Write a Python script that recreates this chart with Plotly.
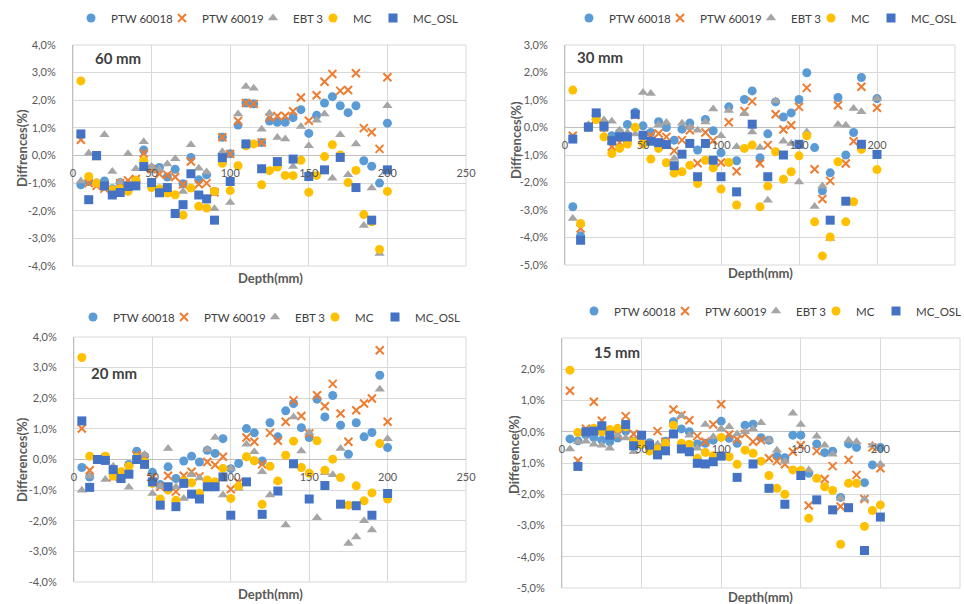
import plotly.graph_objects as go

# ---------------- data ----------------
depth = [5, 10, 15, 20, 25, 30, 35, 40, 45, 50, 55, 60, 65, 70, 75, 80, 85, 90, 95, 100,
         105, 110, 115, 120, 125, 130, 135, 140, 145, 150, 155, 160, 165, 170, 175, 180, 185, 190, 195, 200]

series_names = ["PTW 60018", "PTW 60019", "EBT 3", "MC", "MC_OSL"]

# Panel 1 : 60 mm
p1_ptw60018 = [-1.06, -0.94, -1.0, -0.92, -1.2, -0.98, -1.05, -0.9, 0.2, -0.46, -0.43, -0.78, -0.5, -1.02, -0.07, -0.88, -0.7, -1.3, 0.66, 0.06,
               1.1, 1.9, 1.87, 0.47, 1.25, 1.2, 1.2, 1.37, 1.66, 0.8, 1.46, 1.9, 2.13, 1.8, 1.55, 1.8, -0.19, -0.39, -1.0, 1.17]
p1_ptw60019 = [0.57, -1.0, -1.1, -1.2, -1.3, -1.0, -0.9, -0.85, 0.08, -0.5, -0.67, -0.7, -0.78, -1.05, -0.22, -1.04, -1.0, -1.33, 0.66, 0.06,
               1.25, 1.9, 1.87, 0.47, 1.37, 1.43, 1.43, 1.6, 2.1, 1.26, 2.18, 2.67, 2.95, 2.34, 2.37, 2.98, 0.99, 0.84, 0.24, 2.83]
p1_ebt3 = [-0.92, 0.08, -0.1, 0.75, -0.58, -0.96, 0.06, -0.48, 0.5, -0.4, -0.5, -0.31, -0.12, -1.3, 0.39, -0.46, -0.6, -1.93, 0.14, -1.7,
           1.5, 2.5, 2.43, 0.95, 1.53, 0.65, 0.6, -0.4, 1.05, 0.35, 1.28, 1.5, -0.82, 0.75, -0.7, 0.42, -2.53, -1.18, -3.55, 1.8]
p1_mc = [2.7, -0.76, -1.0, -1.1, -1.24, -1.2, -1.3, -0.9, -0.19, -1.16, -1.2, -1.36, -1.42, -2.16, -1.18, -1.84, -1.9, -1.3, -0.28, -1.27,
         -0.37, 0.35, 0.42, -1.06, -0.55, -0.42, -0.72, -0.73, -0.17, -1.33, -0.72, -0.04, 0.39, 0.02, -0.98, -0.54, -2.14, -2.4, -3.4, -1.3]
p1_mc_osl = [0.78, -1.6, 0.0, -1.1, -1.43, -1.34, -1.12, -1.1, -0.4, -0.98, -1.35, -1.16, -2.1, -1.78, -0.66, -1.43, -1.57, -2.34, -0.08, -0.94,
             None, 0.42, None, -0.48, None, -0.22, None, -0.13, None, -0.76, None, -0.52, None, -0.07, None, -1.16, None, -2.34, None, -0.52]

# Panel 2 : 30 mm
p2_ptw60018 = [-2.88, -3.94, 0.0, 0.45, 0.0, -0.3, -0.18, 0.11, 0.55, 0.06, -0.18, 0.21, 0.0, -0.46, -0.06, 0.16, -0.82, 0.29, -0.12, -0.92,
               0.75, -1.21, 1.02, 1.33, -1.1, -0.23, 0.93, 0.38, 0.53, 1.02, 1.99, -0.73, -2.3, -1.65, 1.09, -1.0, -0.18, 1.82, None, 1.05]
p2_ptw60019 = [-0.3, -3.67, 0.0, 0.3, 0.0, -0.7, -0.55, -0.4, 0.45, -0.4, -0.3, -0.22, -0.34, -0.85, -0.46, -0.1, -1.3, -0.18, -0.47, -1.27,
               0.19, -1.59, 0.6, 0.95, -1.31, -0.64, 0.48, -0.07, 0.08, 0.75, 1.44, -1.52, -2.6, -1.94, 0.81, -1.31, -0.5, 1.48, None, 0.72]
p2_ebt3 = [-3.31, None, 0.1, 0.35, 0.27, 0.23, -0.1, -0.18, -0.24, 1.27, 1.24, 0.1, 0.18, -1.13, 0.15, 0.0, -0.1, 0.2, 0.67, -0.3,
           0.62, -0.7, 0.5, -0.16, -0.73, -2.65, 0.96, -0.5, -0.58, -1.98, -0.16, -2.87, -2.13, -4.04, 0.11, 0.08, 0.69, 0.57, None, 1.05]
p2_mc = [1.36, -3.49, None, 0.29, -0.34, -0.95, -0.76, -0.6, 0.01, -0.6, -1.15, -0.76, -1.28, -1.66, -1.61, -1.37, -2.04, -1.19, -1.47, -2.24,
         -1.27, -2.82, -0.76, -0.64, -2.88, -2.13, -0.88, -1.88, -1.61, -1.03, -0.3, -3.43, -4.67, -3.98, -1.25, -3.43, -2.7, -0.79, None, -1.53]
p2_mc_osl = [-0.42, -4.1, 0.02, 0.53, 0.05, -0.48, -0.34, -0.34, 0.48, -0.28, -0.5, -0.55, -0.62, -1.39, -0.97, -0.58, -1.79, -0.58, -1.19, -1.79,
             None, -2.34, None, 0.12, None, -1.79, None, -1.0, None, -0.61, None, None, None, -3.37, None, -2.68, None, -0.61, None, -0.98]

# Panel 3 : 20 mm
p3_ptw60018 = [-0.26, -0.57, 0.0, 0.1, -0.4, -0.5, -0.16, 0.27, 0.11, -0.42, -0.82, -0.24, -0.62, -0.05, 0.11, -0.08, 0.3, 0.2, 0.68, -0.3,
               -0.13, 1.01, 0.87, -0.05, 1.2, 0.74, 1.59, 1.83, 1.04, 0.72, 1.97, 1.39, 2.09, 1.12, 0.17, 1.2, 0.74, 0.88, 2.75, 0.39]
p3_ptw60019 = [1.01, -0.35, 0.0, 0.0, -0.57, -0.55, -0.3, 0.14, 0.05, -0.6, -0.89, -0.53, -1.05, -0.53, -0.4, -0.55, -0.08, -0.18, 0.09, -0.97,
               -0.75, 0.72, 0.58, -0.16, 0.87, 0.61, 1.23, 1.93, 1.42, 0.85, 2.1, 1.74, 2.47, 1.5, 0.58, 1.61, 1.83, 1.99, 3.57, 1.23]
p3_ebt3 = [-1.0, -0.55, 0.0, -0.65, -0.22, -0.5, -0.91, 0.1, 0.16, -1.11, -0.87, 0.36, -0.9, -1.27, -0.5, -0.6, 0.33, 0.72, -1.16, -0.29,
           -0.95, 0.5, 0.25, -0.4, -1.16, -0.7, -2.14, 1.39, 0.28, 0.88, -1.9, -0.43, -0.5, 0.36, -2.74, -2.53, -2.0, -2.3, 2.29, 0.68]
p3_mc = [3.33, 0.11, 0.0, 0.11, -0.54, -0.4, -0.22, 0.05, -0.08, -0.78, -1.29, -1.0, -1.33, -0.7, -0.76, -1.1, -0.67, -0.73, -0.29, -1.27,
         -0.87, 0.09, -0.04, -1.46, -0.22, -0.7, 0.14, 0.6, -0.26, -0.45, 0.61, -0.35, 0.01, -0.59, -1.49, -0.86, -1.35, -1.09, 0.52, -1.29]
p3_mc_osl = [1.26, -0.91, 0.0, -0.03, -0.33, -0.62, -0.48, 0.0, -0.16, -0.73, -1.49, -0.89, -1.54, -0.78, -1.13, -1.29, -0.89, -0.89, -0.57, -1.82,
             None, -0.73, None, -1.79, None, -1.03, None, -0.14, None, -1.29, None, -0.85, None, -1.46, None, -1.51, None, -1.82, None, -1.11]

# Panel 4 : 15 mm
p4_ptw60018 = [-0.23, -0.29, -0.1, -0.19, -0.27, -0.32, -0.2, 0.02, -0.3, -0.4, -0.35, -0.5, -0.3, 0.32, 0.09, 0.0, -0.39, -0.37, -0.27, 0.34,
               -0.21, -0.37, 0.21, 0.24, -0.19, -0.27, -0.78, -0.83, -0.11, -0.11, -1.33, -0.39, -0.67, -0.62, -2.1, -0.39, -0.5, -1.63, -1.06, -0.5]
p4_ptw60019 = [1.31, -0.93, 0.1, 0.96, 0.35, 0.0, -0.1, 0.5, -0.07, -0.3, -0.4, 0.02, -0.32, 0.71, 0.53, 0.37, -0.14, -0.32, 0.23, 0.88,
               -0.09, -0.24, -0.07, -0.32, -0.27, -0.85, -0.94, -1.04, -0.64, -0.43, -2.36, -0.62, -1.51, -1.1, -2.39, -0.9, -1.38, -2.15, -0.5, -1.17]
p4_ebt3 = [-0.55, -0.32, -0.3, -0.4, -0.43, -0.53, -0.11, -0.2, -0.64, -0.3, -0.43, -0.4, -0.37, -0.1, 0.51, -0.11, -0.53, 0.23, -0.16, 0.1,
           0.16, -0.07, 0.0, 0.1, 0.29, -0.27, -0.59, -0.94, 0.59, 0.23, -1.22, -0.14, -0.43, -0.72, -2.13, -0.27, -0.32, -2.15, -0.43, -1.04]
p4_mc = [1.97, -0.02, 0.0, 0.11, 0.0, 0.07, 0.11, 0.16, -0.32, -0.4, -0.62, -0.55, -0.37, 0.21, -0.37, -0.4, -0.85, -0.66, -0.77, -0.18,
         -0.8, -1.04, -0.59, -0.69, -0.94, -1.4, -1.81, -2.0, -1.22, -1.24, -2.77, -1.49, -1.76, -1.88, -3.6, -1.65, -1.65, -3.03, -2.52, -2.34]
p4_mc_osl = [None, -1.11, 0.0, 0.02, 0.19, -0.11, None, 0.23, -0.45, -0.11, -0.43, -0.74, -0.61, -0.07, -0.55, -0.64, -1.01, -1.03, -0.96, -0.78,
             None, -1.46, None, -1.03, None, -1.81, None, -2.32, None, -1.4, None, -2.18, None, -2.5, None, -2.43, None, -3.8, None, -2.73]

x_tick_vals = [0, 50, 100, 150, 200, 250]
x_tick_text = ["0", "50", "100", "150", "200", "250"]
y_ticks_a = [4, 3, 2, 1, 0, -1, -2, -3, -4]
y_text_a = ["4,0%", "3,0%", "2,0%", "1,0%", "0,0%", "-1,0%", "-2,0%", "-3,0%", "-4,0%"]
y_ticks_b = [3, 2, 1, 0, -1, -2, -3, -4, -5]
y_text_b = ["3,0%", "2,0%", "1,0%", "0,0%", "-1,0%", "-2,0%", "-3,0%", "-4,0%", "-5,0%"]
y_text_b4 = ["", "2,0%", "1,0%", "0,0%", "-1,0%", "-2,0%", "-3,0%", "-4,0%", "-5,0%"]

panel_labels = ["60 mm", "30 mm", "20 mm", "15 mm"]
y_titles = ["Diffrences(%)", "Diffrences(%)", "Differences(%)", "Difference(%)"]

# ---------------- styling ----------------
W, H = 964, 604
FONT = "Lato, 'Liberation Sans', sans-serif"
GRAY = "#595959"
colors = ["#5B9BD5", "#ED7D31", "#A5A5A5", "#FFC000", "#4472C4"]
symbols = ["circle", "x-thin-open", "triangle-up", "circle", "square"]
sizes = [9, 8, 9, 9, 9]
entry_widths = [46, 46, 15, 15, 48]

def fx(px):
    return px / W

def fy(py):
    return 1 - py / H

# pixel boxes of plot areas: (left, right, top, bottom)
boxes = [(73, 466, 45, 266), (565, 955, 45, 265), (74, 466, 337, 582), (562, 960, 338, 588)]
yranges = [(-4, 4), (-5, 3), (-4, 4), (-5, 3)]
ytv = [y_ticks_a, y_ticks_b, y_ticks_a, y_ticks_b]
ytt = [y_text_a, y_text_b, y_text_a, y_text_b4]
panel_data = [
    [p1_ptw60018, p1_ptw60019, p1_ebt3, p1_mc, p1_mc_osl],
    [p2_ptw60018, p2_ptw60019, p2_ebt3, p2_mc, p2_mc_osl],
    [p3_ptw60018, p3_ptw60019, p3_ebt3, p3_mc, p3_mc_osl],
    [p4_ptw60018, p4_ptw60019, p4_ebt3, p4_mc, p4_mc_osl],
]
# first legend marker position (px) of each panel's legend
legend_pos = [(91, 18), (589, 18), (93, 317), (594, 311)]
label_pos = [(118, 58), (600, 57), (114, 373), (617, 352)]
ytitle_pos = [(22, 148), (516, 140), (22, 460), (514, 455)]
xtitle_pos = [(270, 278), (760, 273), (270, 594), (760, 597)]

fig = go.Figure()
layout = dict(width=W, height=H, margin=dict(l=0, r=0, t=0, b=0, autoexpand=False),
              paper_bgcolor="white", plot_bgcolor="white",
              font=dict(family=FONT, color=GRAY), showlegend=True)
annotations = []
shapes = []

for i in range(4):
    k = i + 1
    sfx = "" if k == 1 else str(k)
    left, right, top, bottom = boxes[i]
    y0, y1 = yranges[i]
    legname = "legend" if k == 1 else f"legend{k}"
    for j in range(5):
        fig.add_trace(go.Scatter(
            x=depth, y=panel_data[i][j], mode="markers", name=series_names[j],
            xaxis=f"x{sfx}", yaxis=f"y{sfx}", legend=legname, legendwidth=entry_widths[j],
            marker=dict(symbol=symbols[j], size=sizes[j], color=colors[j],
                        line=dict(width=2 if j == 1 else 0, color=colors[j]))))
    ydom = [fy(bottom), fy(top)]
    zero_frac = ydom[0] + (0 - y0) / (y1 - y0) * (ydom[1] - ydom[0])
    layout[f"xaxis{sfx}"] = dict(
        domain=[fx(left), fx(right)], range=[0, 250], anchor="free", position=zero_frac,
        tickvals=x_tick_vals, ticktext=x_tick_text, showgrid=True, gridcolor="#D9D9D9",
        zeroline=False, showline=False, ticks="", ticklabelstandoff=9, automargin=False,
        tickfont=dict(size=11, color=GRAY, family=FONT), fixedrange=True)
    layout[f"yaxis{sfx}"] = dict(
        domain=ydom, range=[y0, y1], anchor=f"x{sfx}",
        tickvals=ytv[i], ticktext=ytt[i], showgrid=True, gridcolor="#D9D9D9",
        zeroline=True, zerolinecolor="#BFBFBF", zerolinewidth=1, automargin=False,
        showline=True, linecolor="#BFBFBF", ticks="", ticklabelstandoff=14,
        tickfont=dict(size=11, color=GRAY, family=FONT), fixedrange=True)
    lx, ly = legend_pos[i]
    layout[legname] = dict(orientation="h", x=fx(lx - 20), y=fy(ly), xanchor="left", yanchor="middle",
                           font=dict(size=11.5, color="#404040", family=FONT),
                           bgcolor="rgba(0,0,0,0)", itemwidth=30, tracegroupgap=0)
    shapes.append(dict(type="rect", xref=f"x{sfx} domain", yref=f"y{sfx} domain",
                       x0=0, x1=1, y0=0, y1=1, line=dict(color="#D9D9D9", width=1), layer="below"))
    px_, py_ = label_pos[i]
    annotations.append(dict(text=f"<b>{panel_labels[i]}</b>", x=fx(px_), y=fy(py_), xref="paper", yref="paper",
                            xanchor="center", yanchor="middle", showarrow=False,
                            font=dict(size=15, color="#404040", family=FONT)))
    tx, ty = ytitle_pos[i]
    annotations.append(dict(text=f"<b>{y_titles[i]}</b>", x=fx(tx), y=fy(ty), xref="paper", yref="paper",
                            xanchor="center", yanchor="middle", showarrow=False, textangle=-90,
                            font=dict(size=13, color=GRAY, family=FONT)))
    qx, qy = xtitle_pos[i]
    annotations.append(dict(text="<b>Depth(mm)</b>", x=fx(qx), y=fy(qy), xref="paper", yref="paper",
                            xanchor="center", yanchor="middle", showarrow=False,
                            font=dict(size=13, color=GRAY, family=FONT)))

layout["annotations"] = annotations
layout["shapes"] = shapes
fig.update_layout(**layout)
fig.write_html("out.html", config={"displayModeBar": False},
               post_script="document.body.style.margin='0';")
